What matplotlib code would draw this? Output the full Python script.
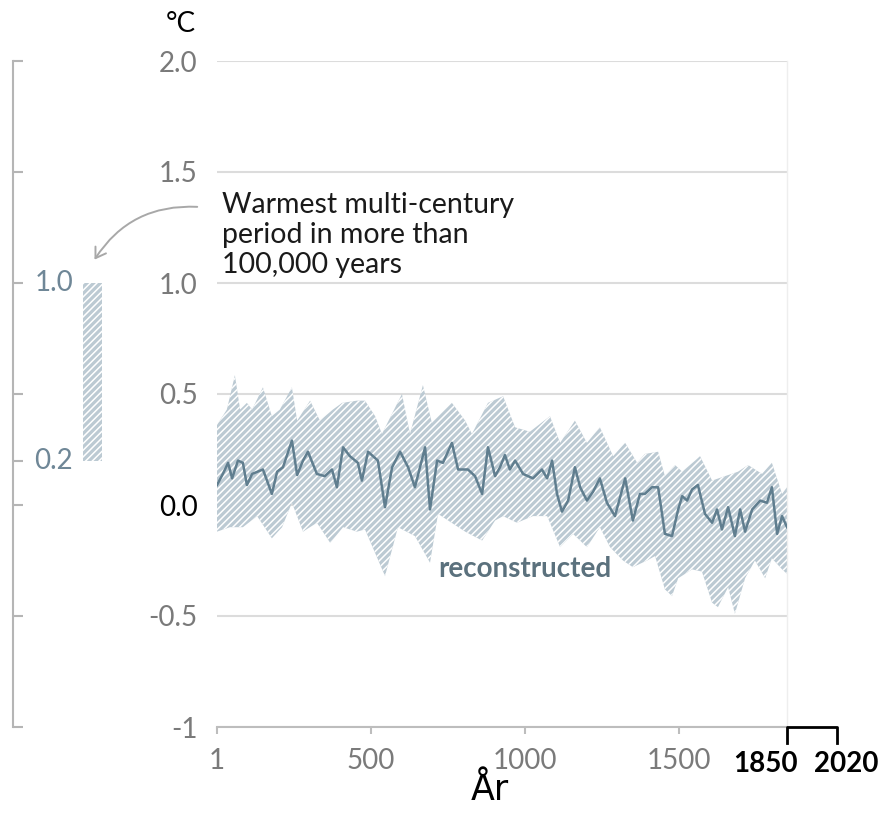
import matplotlib.pyplot as plt
from matplotlib.patches import FancyArrowPatch
import matplotlib.transforms as mtransforms

plt.rcParams['font.family'] = ['Lato', 'DejaVu Sans']
plt.rcParams['hatch.linewidth'] = 1.1

# Reconstructed median
med_years = [1, 20, 37, 50, 69, 85, 98, 115, 150, 179, 196, 215, 244, 261, 280, 296,
             325, 351, 374, 390, 410, 432, 458, 471, 491, 523, 546, 569, 595, 621,
             643, 676, 692, 715, 734, 763, 783, 815, 838, 861, 880, 903, 919, 935,
             951, 968, 994, 1026, 1055, 1072, 1088, 1104, 1120, 1140, 1162, 1179,
             1201, 1221, 1243, 1266, 1292, 1325, 1350, 1373, 1389, 1412, 1432, 1454,
             1477, 1497, 1510, 1526, 1542, 1561, 1584, 1607, 1623, 1639, 1659, 1681,
             1698, 1714, 1737, 1763, 1785, 1801, 1818, 1834, 1850]
med_vals = [0.09, 0.14, 0.19, 0.12, 0.20, 0.19, 0.09, 0.14, 0.16, 0.05, 0.15, 0.17,
            0.29, 0.135, 0.20, 0.24, 0.14, 0.13, 0.16, 0.08, 0.26, 0.22, 0.19, 0.11,
            0.24, 0.20, -0.01, 0.17, 0.24, 0.17, 0.08, 0.26, -0.02, 0.20, 0.19, 0.28,
            0.16, 0.16, 0.13, 0.05, 0.26, 0.13, 0.17, 0.225, 0.16, 0.20, 0.14, 0.12,
            0.16, 0.12, 0.20, 0.05, -0.03, 0.02, 0.17, 0.08, 0.02, 0.06, 0.12, 0.01,
            -0.05, 0.12, -0.07, 0.05, 0.05, 0.08, 0.08, -0.13, -0.14, -0.02, 0.04,
            0.02, 0.07, 0.09, -0.04, -0.08, -0.02, -0.11, -0.01, -0.14, -0.02, -0.12,
            -0.02, 0.02, 0.01, 0.08, -0.13, -0.05, -0.10]

# Upper edge of the uncertainty band
up_years = [1, 33, 59, 76, 98, 115, 150, 179, 205, 244, 261, 303, 335, 377, 407, 455,
            481, 514, 536, 601, 627, 669, 698, 763, 806, 828, 880, 929, 968, 1016,
            1081, 1114, 1162, 1201, 1243, 1286, 1325, 1364, 1389, 1432, 1454, 1487,
            1510, 1552, 1568, 1607, 1649, 1691, 1724, 1769, 1801, 1834, 1850]
up_vals = [0.36, 0.43, 0.585, 0.43, 0.46, 0.43, 0.53, 0.40, 0.43, 0.53, 0.38, 0.47,
           0.38, 0.43, 0.46, 0.47, 0.47, 0.40, 0.32, 0.50, 0.32, 0.54, 0.37, 0.46,
           0.38, 0.32, 0.46, 0.49, 0.35, 0.33, 0.40, 0.28, 0.38, 0.28, 0.35, 0.22,
           0.28, 0.19, 0.23, 0.24, 0.13, 0.18, 0.15, 0.20, 0.22, 0.11, 0.13, 0.15,
           0.18, 0.14, 0.19, 0.05, 0.08]

# Lower edge of the uncertainty band
lo_years = [1, 43, 85, 131, 179, 212, 244, 280, 325, 368, 410, 455, 481, 546, 588,
            643, 692, 718, 773, 806, 861, 903, 929, 974, 1026, 1072, 1114, 1156, 1201,
            1243, 1276, 1318, 1350, 1396, 1422, 1454, 1477, 1497, 1542, 1574, 1607,
            1626, 1659, 1681, 1714, 1746, 1779, 1801, 1834, 1850]
lo_vals = [-0.12, -0.10, -0.10, -0.05, -0.15, -0.10, 0.01, -0.12, -0.08, -0.17, -0.10,
           -0.12, -0.11, -0.32, -0.10, -0.14, -0.26, -0.04, -0.09, -0.12, -0.16, -0.07,
           -0.05, -0.08, -0.05, -0.05, -0.19, -0.13, -0.19, -0.10, -0.19, -0.25, -0.28,
           -0.25, -0.23, -0.38, -0.41, -0.33, -0.29, -0.30, -0.44, -0.46, -0.37, -0.49,
           -0.33, -0.25, -0.33, -0.24, -0.29, -0.31]

# Warmest multi-century period range
warm_range = [0.2, 1.0]

y_ticks = [2.0, 1.5, 1.0, 0.5, 0.0, -0.5, -1]
y_labels = ['2.0', '1.5', '1.0', '0.5', '0.0', '-0.5', '-1']
x_ticks = [1, 500, 1000, 1500]
x_labels = ['1', '500', '1000', '1500']

band_face = '#bccad3'
line_col = '#607e8f'
grey_txt = '#7a7a7a'
fs = 20

fig = plt.figure(figsize=(8.85, 8.27), dpi=100)
ax = fig.add_axes([217 / 885, 1 - 727 / 827, 570 / 885, 666 / 827])

# Band (hatched) and median line
band_x = up_years + lo_years[::-1]
band_y = up_vals + lo_vals[::-1]
ax.fill(band_x, band_y, facecolor=band_face, edgecolor='white', hatch='/////',
        linewidth=0, zorder=2)
ax.plot(med_years, med_vals, color=line_col, lw=1.8, zorder=3)

ax.set_xlim(1, 1850)
ax.set_ylim(-1, 2)
ax.set_yticks(y_ticks, labels=y_labels)
ax.set_xticks(x_ticks, labels=x_labels)
ax.grid(axis='y', color='#dcdcdc', lw=1.5, zorder=0)
ax.tick_params(axis='y', length=0, pad=14, labelsize=fs, labelcolor=grey_txt)
ax.tick_params(axis='x', length=5, width=1.5, color='#bdbdbd', pad=10,
               labelsize=fs, labelcolor=grey_txt)
for lab in ax.get_yticklabels():
    if lab.get_text() == '0.0':
        lab.set_color('black')

for s in ['left', 'top']:
    ax.spines[s].set_visible(False)
ax.spines['bottom'].set_color('#bdbdbd')
ax.spines['bottom'].set_linewidth(1.5)
ax.spines['right'].set_color('#eeeeee')
ax.spines['right'].set_linewidth(1)

# 1850 / 2020 bracket
trans = mtransforms.blended_transform_factory(ax.transAxes, ax.transAxes)
bx1 = 1.0
bx2 = (837 - 217) / 570
ax.plot([bx1, bx1, bx2, bx2], [-0.024, 0, 0, -0.024], color='black', lw=2,
        transform=trans, clip_on=False, zorder=5)
ax.text((766 - 217) / 570, -(764 - 727) / 666, '1850', transform=trans, ha='center',
        va='center', fontsize=fs, fontweight='bold', color='black')
ax.text((846 - 217) / 570, -(764 - 727) / 666, '2020', transform=trans, ha='center',
        va='center', fontsize=fs, fontweight='bold', color='black')

ax.text(1000, -0.29, 'reconstructed', ha='center', va='center', fontsize=20,
        fontweight='bold', color='#5b717d', zorder=4)

ax.text(17, 1.41, 'Warmest multi-century\nperiod in more than\n100,000 years',
        ha='left', va='top', fontsize=20.5, color='#1a1a1a', linespacing=1.2)

# Side axis with warmest-period bar
ax2 = fig.add_axes([13 / 885, 1 - 727 / 827, 97 / 885, 666 / 827])
ax2.set_xlim(0, 1)
ax2.set_ylim(-1, 2)
ax2.bar(0.82, warm_range[1] - warm_range[0], bottom=warm_range[0], width=0.2,
        facecolor=band_face, edgecolor='white', hatch='/////', linewidth=0)
for s in ['right', 'top', 'bottom']:
    ax2.spines[s].set_visible(False)
ax2.spines['left'].set_color('#b5b5b5')
ax2.spines['left'].set_linewidth(1.5)
ax2.set_xticks([])
ax2.set_yticks([2.0, 1.5, 1.0, 0.5, 0.2, 0.0, -0.5, -1])
ax2.tick_params(axis='y', direction='in', length=7, width=1.5, color='#b5b5b5',
                labelleft=False)
ax2.patch.set_alpha(0)
for v in warm_range:
    ax2.text(0.22, v, f'{v:.1f}', ha='left', va='center', fontsize=fs, color='#6f8797')

# Curved arrow from annotation to bar
arrow = FancyArrowPatch((200 / 885, 1 - 207 / 827), (93 / 885, 1 - 262 / 827),
                        transform=fig.transFigure, connectionstyle='arc3,rad=0.3',
                        arrowstyle='->,head_length=7,head_width=4.5', color='#a8a8a8', lw=1.4)
fig.add_artist(arrow)

fig.text(181 / 885, 1 - 24 / 827, '°C', ha='center', va='center', fontsize=20)
fig.text(490 / 885, 1 - 790 / 827, 'År', ha='center', va='center', fontsize=25,
         family=['DejaVu Sans'])

fig.savefig('out.png', dpi=100)
